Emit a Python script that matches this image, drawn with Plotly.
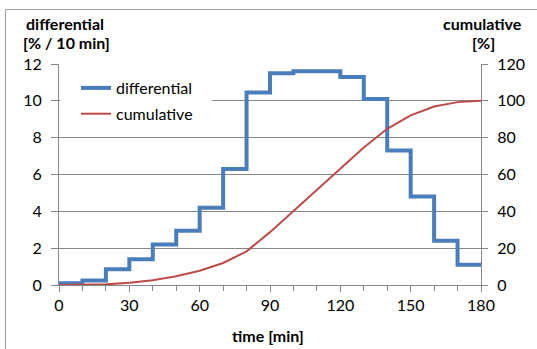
import plotly.graph_objects as go

# Data
time_edges = [0, 10, 20, 30, 40, 50, 60, 70, 80, 90, 100, 110, 120, 130, 140, 150, 160, 170, 180]
differential = [0.1, 0.25, 0.85, 1.4, 2.2, 2.95, 4.2, 6.3, 10.45, 11.5, 11.6, 11.6, 11.3, 10.1, 7.3, 4.8, 2.4, 1.1]
cumulative = [0, 0.1, 0.35, 1.2, 2.6, 4.8, 7.75, 11.95, 18.25, 28.7, 40.2, 51.8, 63.4, 74.7, 84.8, 92.1, 96.9, 99.3, 100]
x_ticks = [0, 30, 60, 90, 120, 150, 180]
y_left_ticks = [0, 2, 4, 6, 8, 10, 12]
y_right_ticks = [0, 20, 40, 60, 80, 100, 120]

FONT = "Lato"
GRAY = "#868686"
W, H = 537, 349
L, R, T, B = 59, 481, 64, 285
FS = 16

def px(xp):
    return (xp - L) / (R - L)

def py(yp):
    return (B - yp) / (B - T)

fig = go.Figure()
fig.add_trace(go.Scatter(
    x=time_edges, y=differential + [differential[-1]],
    mode="lines", line=dict(shape="hv", color="#4A7EBB", width=4),
    name="differential", legendgroup="a", yaxis="y"))
fig.add_trace(go.Scatter(
    x=time_edges, y=cumulative,
    mode="lines", line=dict(color="#BE4B48", width=2),
    name="cumulative", legendgroup="b", yaxis="y2"))

fig.update_layout(
    width=W, height=H,
    margin=dict(l=L, r=W - R, t=T, b=H - B, pad=0),
    paper_bgcolor="white", plot_bgcolor="white",
    font=dict(family=FONT, size=FS, color="black"),
    showlegend=True,
    legend=dict(x=px(76), y=py(71), xanchor="left", yanchor="top",
                bgcolor="rgba(0,0,0,0)", borderwidth=0,
                font=dict(family=FONT, size=FS),
                tracegroupgap=2, traceorder="grouped"),
    xaxis=dict(range=[0, 180], tickvals=x_ticks, showgrid=False, zeroline=False,
               showline=True, linecolor=GRAY, linewidth=1,
               ticks="outside", ticklen=6, tickcolor=GRAY,
               minor=dict(dtick=10, ticks="outside", ticklen=5, tickcolor=GRAY, showgrid=False),
               tickfont=dict(size=FS), fixedrange=True),
    yaxis=dict(range=[0, 12], tickvals=y_left_ticks, showgrid=True, gridcolor=GRAY, gridwidth=1,
               zeroline=False, showline=True, linecolor=GRAY, linewidth=1,
               ticks="outside", ticklen=7, tickcolor=GRAY, tickfont=dict(size=FS),
               ticklabelstandoff=6),
    yaxis2=dict(range=[0, 120], tickvals=y_right_ticks, overlaying="y", side="right",
                showgrid=False, zeroline=False, showline=True, linecolor=GRAY, linewidth=1,
                ticks="outside", ticklen=6, tickcolor=GRAY, tickfont=dict(size=FS),
                ticklabelstandoff=6),
    shapes=[
        dict(type="rect", xref="paper", yref="paper",
             x0=px(5.5), x1=px(600), y0=py(9.5), y1=py(400),
             line=dict(color="#A0A0A0", width=1), fillcolor="rgba(0,0,0,0)", layer="below"),
        dict(type="rect", xref="paper", yref="paper",
             x0=px(60), x1=px(212), y0=py(67), y1=py(134),
             line=dict(width=0), fillcolor="white", layer="above"),
    ],
    annotations=[
        dict(text="<b>differential</b>", x=px(65), y=py(23), xref="paper", yref="paper",
             showarrow=False, xanchor="center", yanchor="middle", font=dict(size=FS)),
        dict(text="<b>[% / 10 min]</b>", x=px(66), y=py(43), xref="paper", yref="paper",
             showarrow=False, xanchor="center", yanchor="middle", font=dict(size=FS)),
        dict(text="<b>cumulative</b>", x=px(482), y=py(23), xref="paper", yref="paper",
             showarrow=False, xanchor="center", yanchor="middle", font=dict(size=FS)),
        dict(text="<b>[%]</b>", x=px(483), y=py(43), xref="paper", yref="paper",
             showarrow=False, xanchor="center", yanchor="middle", font=dict(size=FS)),
        dict(text="<b>time [min]</b>", x=px(268), y=py(335), xref="paper", yref="paper",
             showarrow=False, xanchor="center", yanchor="middle", font=dict(size=FS)),
    ],
)

fig.write_html("out.html", config={"displayModeBar": False},
               post_script="document.body.style.margin='0';")
